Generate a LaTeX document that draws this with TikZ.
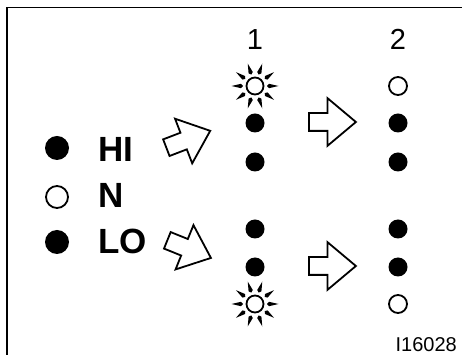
\documentclass[tikz,border=0pt]{standalone}
\usepackage{fontspec}
\setmainfont{Liberation Sans}
\usepackage{tikz}
\usetikzlibrary{positioning,shapes.arrows}

\begin{document}
\begin{tikzpicture}[
    x=1pt, y=1pt,
    bigon/.style={circle, fill=black, minimum size=24pt, inner sep=0pt},
    bigoff/.style={circle, draw=black, line width=1.8pt, minimum size=22pt, inner sep=0pt},
    lampon/.style={circle, fill=black, minimum size=19pt, inner sep=0pt},
    lampoff/.style={circle, draw=black, line width=1.8pt, minimum size=18pt, inner sep=0pt},
    sunlamp/.style={circle, draw=black, line width=1.8pt, minimum size=17pt, inner sep=0pt},
    lbl/.style={font=\fontsize{35}{40}\selectfont\bfseries, inner sep=0pt, anchor=base west},
    colnum/.style={font=\fontsize{29}{32}\selectfont, inner sep=0pt, anchor=base},
    blockarrow/.style={single arrow, draw=black, line width=1.8pt, fill=white,
        inner xsep=0pt, inner ysep=8pt, minimum width=46pt, minimum height=47pt,
        single arrow head extend=15pt, single arrow tip angle=80, anchor=tail}
]
\useasboundingbox (0,0) rectangle (462,355);

% Frame
\draw[line width=1.6pt] (7,-5) |- (470,347.5);

% Switch positions
\node[bigon] (hidot) at (57,207) {};
\node[bigoff] (ndot) at (57,158) {};
\node[bigon] (lodot) at (57,113) {};
\node[lbl] (hi) at (98,193) {HI};
\node[lbl] (n) at (98,147) {N};
\node[lbl] (lo) at (98,101) {LO};

% Column headings
\node[colnum] (num1) at (255,305) {1};
\node[colnum] (num2) at (398,305) {2};

% Column 1
\node[sunlamp] (sunhi) at (255,269) {};
\node[lampon] (c1a) at (255,232) {};
\node[lampon] (c1b) at (255,193) {};
\node[lampon] (c1c) at (255,126) {};
\node[lampon] (c1d) at (255,88) {};
\node[sunlamp] (sunlo) at (255,51) {};

% Rays
\foreach \s in {sunhi,sunlo}
  \foreach \a in {0,36,...,324}
    \fill[shift={(\s.center)}, rotate=\a] (12,0) -- (14,2.2) -- (23.5,0) -- (14,-2.2) -- cycle;

% Column 2
\node[lampoff] (c2top) at (398,269) {};
\node[lampon] (c2a) at (398,232) {};
\node[lampon] (c2b) at (398,193) {};
\node[lampon] (c2c) at (398,126) {};
\node[lampon] (c2d) at (398,88) {};
\node[lampoff] (c2bot) at (398,51) {};

% Arrows
\node[blockarrow, rotate=21] (arrhi) at (165.5,207) {};
\node[blockarrow, rotate=-22] (arrlo) at (166.5,115) {};
\node[blockarrow] (arrtop) at (308,233) {};
\node[blockarrow] (arrbot) at (308,89) {};

% Figure code
\node[font=\fontsize{20}{22}\selectfont, inner sep=0pt, anchor=base east] (code) at (457,3) {I16028};

\end{tikzpicture}
\end{document}
